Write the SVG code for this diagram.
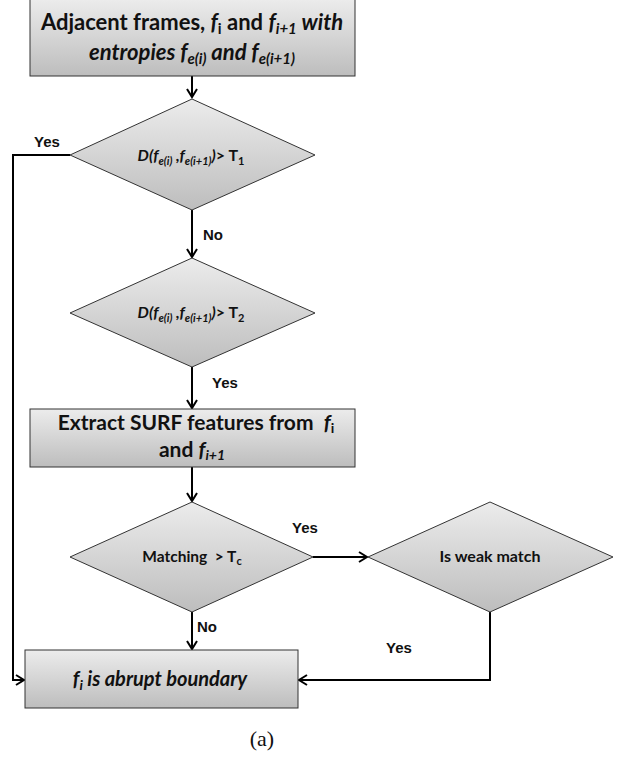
<svg xmlns="http://www.w3.org/2000/svg" width="621" height="757" viewBox="0 0 621 757">
<defs>
<linearGradient id="g" x1="0" y1="0" x2="0" y2="1">
<stop offset="0" stop-color="#ececec"/>
<stop offset="1" stop-color="#bdbdbd"/>
</linearGradient>
<marker id="arr" markerUnits="userSpaceOnUse" markerWidth="14" markerHeight="14" refX="10" refY="6" orient="auto">
<path d="M2,1 L10,6 L2,11" fill="none" stroke="#000" stroke-width="2"/>
</marker>
<style>
.shape{fill:url(#g);stroke:#333;stroke-width:1}
.t{font-family:Lato,"Open Sans",sans-serif;font-weight:bold;fill:#111}
.i{font-style:italic}
.lbl{font-family:"Liberation Sans",Arial,sans-serif;font-weight:bold;font-size:15px;fill:#111}
.c{fill:none;stroke:#000;stroke-width:2}
</style>
</defs>
<rect width="621" height="757" fill="#fff"/>

<g id="connectors">
<path class="c" d="M192,76 V97" marker-end="url(#arr)"/>
<path class="c" d="M192,210 V257" marker-end="url(#arr)"/>
<path class="c" d="M192,367 V408" marker-end="url(#arr)"/>
<path class="c" d="M192,467 V501" marker-end="url(#arr)"/>
<path class="c" d="M192,612 V649" marker-end="url(#arr)"/>
<path class="c" d="M313,557 H367" marker-end="url(#arr)"/>
<path class="c" d="M70,155 H13 V680 H24" marker-end="url(#arr)"/>
<path class="c" d="M490,612 V680 H299" marker-end="url(#arr)"/>
<text class="lbl" x="34" y="147">Yes</text>
<text class="lbl" x="203" y="240">No</text>
<text class="lbl" x="212" y="388">Yes</text>
<text class="lbl" x="292" y="533">Yes</text>
<text class="lbl" x="197" y="632">No</text>
<text class="lbl" x="386" y="653">Yes</text>
</g>

<g id="n1">
<rect class="shape" x="30" y="-1" width="325" height="77"/>
<text class="t" x="192" y="30" font-size="22" text-anchor="middle">Adjacent frames, <tspan class="i">f</tspan><tspan font-size="15" dy="4">i</tspan><tspan dy="-4"> and </tspan><tspan class="i">f</tspan><tspan class="i" font-size="15" dy="4">i+1</tspan><tspan class="i" dy="-4"> with</tspan></text>
<text class="t i" x="192" y="60" font-size="22" text-anchor="middle">entropies f<tspan font-size="15" dy="4">e(i)</tspan><tspan dy="-4"> and f</tspan><tspan font-size="15" dy="4">e(i+1)</tspan></text>
</g>

<g id="n2">
<polygon class="shape" points="192,99 315,155 192,210 70,155"/>
<text class="t" x="191" y="161" font-size="16" text-anchor="middle"><tspan class="i">D(f</tspan><tspan class="i" font-size="11" dy="4">e(i)</tspan><tspan class="i" dy="-4"> ,f</tspan><tspan class="i" font-size="11" dy="4">e(i+1)</tspan><tspan class="i" dy="-4">)</tspan>&gt; T<tspan font-size="11" dy="4">1</tspan></text>
</g>

<g id="n3">
<polygon class="shape" points="192,258 315,313 192,367 70,313"/>
<text class="t" x="191" y="318" font-size="16" text-anchor="middle"><tspan class="i">D(f</tspan><tspan class="i" font-size="11" dy="4">e(i)</tspan><tspan class="i" dy="-4"> ,f</tspan><tspan class="i" font-size="11" dy="4">e(i+1)</tspan><tspan class="i" dy="-4">)</tspan>&gt; T<tspan font-size="11" dy="4">2</tspan></text>
</g>

<g id="n4">
<rect class="shape" x="30" y="409" width="325" height="58"/>
<text class="t" x="196" y="430" font-size="21" text-anchor="middle">Extract SURF features from&#160; <tspan class="i">f</tspan><tspan font-size="14" dy="3">i</tspan></text>
<text class="t" x="192" y="457" font-size="21" text-anchor="middle">and <tspan class="i">f</tspan><tspan class="i" font-size="14" dy="3">i+1</tspan></text>
</g>

<g id="n5">
<polygon class="shape" points="192,502 313,557 192,612 70,557"/>
<text class="t" x="192" y="562" font-size="15.5" text-anchor="middle">Matching&#160; &gt; T<tspan font-size="11" dy="3">c</tspan></text>
</g>

<g id="n6">
<polygon class="shape" points="490,502 613,557 490,612 368,557"/>
<text class="t" x="490" y="562" font-size="16" text-anchor="middle">Is weak match</text>
</g>

<g id="n7">
<rect class="shape" x="25" y="650" width="273" height="58"/>
<text class="t i" x="160" y="686" font-size="20" text-anchor="middle">f<tspan font-size="14" dy="4">i</tspan><tspan dy="-4"> is abrupt boundary</tspan></text>
</g>

<text x="262" y="746" font-family="'Liberation Serif','Times New Roman',serif" font-size="22" text-anchor="middle" fill="#111">(a)</text>
</svg>
